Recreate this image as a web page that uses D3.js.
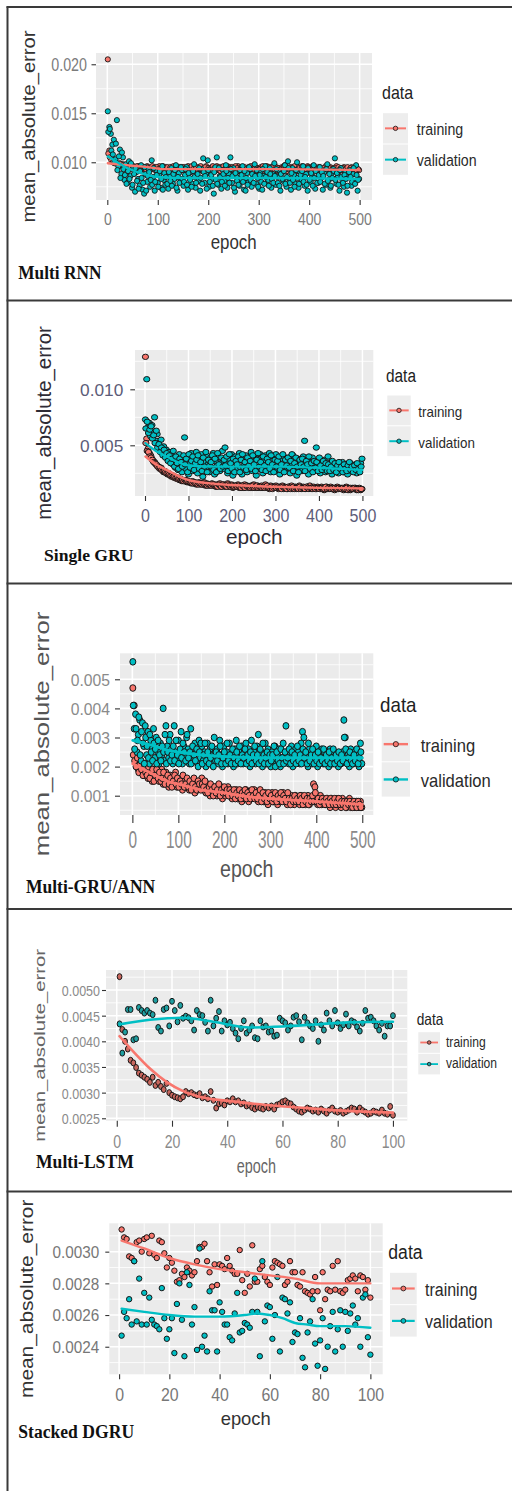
<!DOCTYPE html>
<html>
<head>
<meta charset="utf-8">
<script src="https://cdn.jsdelivr.net/npm/d3@7"></script>
<style>
  html, body { margin: 0; padding: 0; background: #ffffff; }
  svg { display: block; }
</style>
</head>
<body>
<svg id="fig" width="512" height="1491"></svg>
<script>
// ================= data =================
const seriesNames = ["training", "validation"];
// the 500-epoch runs are stored as two interleaved samples: epochs 1,4,7,... and 2,5,8,...
const longEpochsA = d3.range(1, 500, 3);
const longEpochsB = d3.range(2, 500, 3);
const shortEpochs = d3.range(1, 101);     // every epoch of the 100-epoch runs
const longXTicks = [0, 100, 200, 300, 400, 500];
const shortXTicks = [0, 20, 40, 60, 80, 100];

// ---- Multi RNN ----
const rnnYTicks = [0.010, 0.015, 0.020];
const rnnTrainA = [
  0.0205,0.0112,0.0106,0.0103,0.0101,0.0100,0.0099,0.0098,0.0099,0.0097,
  0.0098,0.0096,0.0097,0.0095,0.0097,0.0096,0.0094,0.0096,0.0095,0.0094,
  0.0096,0.0094,0.0095,0.0093,0.0095,0.0094,0.0096,0.0093,0.0094,0.0095,
  0.0093,0.0095,0.0092,0.0094,0.0096,0.0093,0.0091,0.0094,0.0095,0.0092,
  0.0094,0.0092,0.0095,0.0093,0.0091,0.0096,0.0094,0.0092,0.0093,0.0095,
  0.0092,0.0094,0.0093,0.0096,0.0091,0.0093,0.0095,0.0092,0.0094,0.0093,
  0.0095,0.0092,0.0094,0.0091,0.0093,0.0096,0.0092,0.0094,0.0093,0.0095,
  0.0091,0.0094,0.0096,0.0092,0.0093,0.0095,0.0091,0.0094,0.0092,0.0096,
  0.0093,0.0095,0.0092,0.0094,0.0091,0.0093,0.0096,0.0092,0.0095,0.0093,
  0.0094,0.0091,0.0093,0.0095,0.0092,0.0094,0.0096,0.0093,0.0091,0.0094,
  0.0092,0.0095,0.0093,0.0091,0.0094,0.0096,0.0092,0.0093,0.0095,0.0092,
  0.0096,0.0093,0.0091,0.0094,0.0092,0.0095,0.0093,0.0097,0.0092,0.0094,
  0.0093,0.0091,0.0095,0.0092,0.0094,0.0096,0.0091,0.0093,0.0095,0.0092,
  0.0094,0.0092,0.0096,0.0093,0.0091,0.0094,0.0092,0.0095,0.0093,0.0091,
  0.0095,0.0093,0.0092,0.0094,0.0096,0.0091,0.0093,0.0095,0.0092,0.0094,
  0.0092,0.0096,0.0093,0.0091,0.0094,0.0092,0.0095,0.0093,0.0091,0.0094,
  0.0093,0.0095,0.0092,0.0094,0.0091,0.0093,0.0092
];
const rnnTrainB = [
  0.0109,0.0105,0.0102,0.0100,0.0099,0.0100,0.0098,0.0097,0.0098,0.0096,
  0.0097,0.0095,0.0096,0.0094,0.0096,0.0095,0.0093,0.0095,0.0094,0.0096,
  0.0094,0.0096,0.0093,0.0095,0.0094,0.0092,0.0095,0.0094,0.0093,0.0096,
  0.0094,0.0092,0.0095,0.0093,0.0091,0.0094,0.0096,0.0092,0.0093,0.0095,
  0.0092,0.0095,0.0093,0.0096,0.0094,0.0091,0.0093,0.0095,0.0092,0.0094,
  0.0095,0.0093,0.0091,0.0094,0.0092,0.0096,0.0093,0.0091,0.0095,0.0092,
  0.0093,0.0096,0.0092,0.0094,0.0095,0.0091,0.0094,0.0093,0.0092,0.0096,
  0.0094,0.0092,0.0093,0.0095,0.0091,0.0094,0.0096,0.0093,0.0095,0.0092,
  0.0091,0.0094,0.0095,0.0092,0.0096,0.0094,0.0091,0.0093,0.0094,0.0092,
  0.0095,0.0093,0.0092,0.0094,0.0096,0.0091,0.0092,0.0095,0.0094,0.0093,
  0.0093,0.0092,0.0096,0.0094,0.0092,0.0093,0.0095,0.0091,0.0094,0.0096,
  0.0092,0.0095,0.0094,0.0091,0.0093,0.0092,0.0096,0.0094,0.0091,0.0093,
  0.0095,0.0094,0.0092,0.0096,0.0091,0.0093,0.0094,0.0092,0.0096,0.0093,
  0.0092,0.0093,0.0095,0.0091,0.0094,0.0096,0.0093,0.0092,0.0094,0.0095,
  0.0093,0.0091,0.0094,0.0092,0.0093,0.0095,0.0094,0.0091,0.0093,0.0092,
  0.0094,0.0092,0.0095,0.0093,0.0092,0.0094,0.0091,0.0093,0.0095,0.0092,
  0.0094,0.0091,0.0093,0.0095,0.0092,0.0093
];
const rnnValA = [
  0.0152,0.0136,0.0129,0.0118,0.0123,0.0103,0.0143,0.0096,0.0113,0.0088,
  0.0105,0.0082,0.0098,0.0079,0.0101,0.0086,0.0074,0.0095,0.0070,0.0090,
  0.0083,0.0076,0.0097,0.0072,0.0068,0.0088,0.0080,0.0093,0.0075,0.0102,
  0.0085,0.0071,0.0092,0.0079,0.0088,0.0074,0.0096,0.0082,0.0077,0.0090,
  0.0073,0.0086,0.0094,0.0078,0.0083,0.0097,0.0071,0.0089,0.0080,0.0092,
  0.0076,0.0087,0.0095,0.0072,0.0084,0.0090,0.0078,0.0098,0.0074,0.0086,
  0.0081,0.0071,0.0093,0.0104,0.0079,0.0088,0.0102,0.0075,0.0091,0.0083,
  0.0068,0.0095,0.0105,0.0077,0.0086,0.0073,0.0092,0.0081,0.0097,0.0074,
  0.0088,0.0105,0.0079,0.0094,0.0070,0.0085,0.0091,0.0076,0.0083,0.0096,
  0.0072,0.0071,0.0089,0.0080,0.0093,0.0075,0.0087,0.0098,0.0078,0.0084,
  0.0073,0.0091,0.0072,0.0086,0.0096,0.0079,0.0082,0.0094,0.0074,0.0088,
  0.0099,0.0077,0.0085,0.0092,0.0071,0.0089,0.0081,0.0097,0.0075,0.0101,
  0.0083,0.0072,0.0094,0.0087,0.0078,0.0100,0.0074,0.0090,0.0082,0.0096,
  0.0076,0.0088,0.0071,0.0093,0.0080,0.0086,0.0097,0.0073,0.0091,0.0079,
  0.0095,0.0084,0.0072,0.0090,0.0077,0.0098,0.0082,0.0074,0.0089,0.0093,
  0.0104,0.0078,0.0086,0.0071,0.0094,0.0081,0.0075,0.0090,0.0069,0.0085,
  0.0092,0.0076,0.0088,0.0079,0.0097,0.0071,0.0083
];
const rnnValB = [
  0.0131,0.0134,0.0112,0.0108,0.0100,0.0119,0.0092,0.0106,0.0084,0.0110,
  0.0093,0.0087,0.0078,0.0091,0.0083,0.0099,0.0077,0.0088,0.0094,0.0081,
  0.0073,0.0091,0.0084,0.0079,0.0095,0.0071,0.0086,0.0090,0.0082,0.0077,
  0.0094,0.0080,0.0087,0.0075,0.0091,0.0083,0.0072,0.0089,0.0085,0.0078,
  0.0090,0.0081,0.0076,0.0088,0.0092,0.0074,0.0085,0.0079,0.0095,0.0083,
  0.0080,0.0093,0.0077,0.0089,0.0082,0.0075,0.0091,0.0085,0.0079,0.0088,
  0.0094,0.0084,0.0078,0.0090,0.0086,0.0073,0.0092,0.0080,0.0087,0.0076,
  0.0090,0.0082,0.0078,0.0094,0.0085,0.0080,0.0088,0.0076,0.0091,0.0084,
  0.0079,0.0093,0.0086,0.0074,0.0089,0.0081,0.0077,0.0092,0.0087,0.0080,
  0.0091,0.0084,0.0077,0.0095,0.0082,0.0088,0.0079,0.0086,0.0092,0.0075,
  0.0087,0.0080,0.0093,0.0078,0.0085,0.0090,0.0076,0.0088,0.0083,0.0079,
  0.0086,0.0093,0.0079,0.0076,0.0088,0.0083,0.0091,0.0078,0.0085,0.0094,
  0.0079,0.0089,0.0082,0.0075,0.0092,0.0084,0.0078,0.0087,0.0091,0.0080,
  0.0085,0.0077,0.0094,0.0082,0.0089,0.0076,0.0084,0.0091,0.0079,0.0087,
  0.0080,0.0090,0.0086,0.0078,0.0093,0.0081,0.0088,0.0076,0.0084,0.0091,
  0.0082,0.0089,0.0077,0.0092,0.0085,0.0079,0.0087,0.0083,0.0076,0.0090,
  0.0085,0.0080,0.0094,0.0078,0.0087,0.0082
];
const rnnTrainFitEpochs = [1, 20, 50, 80, 95, 110, 200, 350, 500];
const rnnTrainFit = [0.0099, 0.0098, 0.00965, 0.0095, 0.0094, 0.0093, 0.0093, 0.0093, 0.0092];
const rnnValFitEpochs = [1, 20, 40, 60, 80, 100, 150, 250, 350, 500];
const rnnValFit = [0.0106, 0.0100, 0.0094, 0.0090, 0.0087, 0.0085, 0.0084, 0.0084, 0.0084, 0.0083];

// ---- Single GRU ----
const gruYTicks = [0.005, 0.010];
const gruTrainA = [
  0.0129,0.0056,0.0047,0.0043,0.0041,0.0038,0.0036,0.0035,0.0033,0.0032,
  0.0031,0.0029,0.0030,0.0028,0.0026,0.0027,0.0025,0.0024,0.0025,0.0023,
  0.0022,0.0023,0.0021,0.0022,0.0020,0.0021,0.0019,0.0020,0.0018,0.0019,
  0.0018,0.0019,0.0017,0.0018,0.0017,0.0016,0.0018,0.0016,0.0017,0.0015,
  0.0016,0.0017,0.0015,0.0016,0.0015,0.0017,0.0014,0.0016,0.0015,0.0014,
  0.0015,0.0016,0.0014,0.0015,0.0013,0.0015,0.0014,0.0016,0.0013,0.0014,
  0.0015,0.0013,0.0014,0.0016,0.0013,0.0014,0.0015,0.0012,0.0014,0.0013,
  0.0014,0.0015,0.0012,0.0013,0.0014,0.0012,0.0015,0.0013,0.0014,0.0012,
  0.0013,0.0014,0.0012,0.0015,0.0013,0.0012,0.0014,0.0013,0.0012,0.0014,
  0.0012,0.0013,0.0015,0.0012,0.0013,0.0011,0.0014,0.0012,0.0013,0.0012,
  0.0014,0.0012,0.0011,0.0013,0.0012,0.0014,0.0011,0.0013,0.0012,0.0011,
  0.0013,0.0012,0.0014,0.0011,0.0012,0.0013,0.0011,0.0012,0.0014,0.0012,
  0.0011,0.0013,0.0012,0.0011,0.0013,0.0012,0.0014,0.0011,0.0012,0.0013,
  0.0012,0.0011,0.0013,0.0012,0.0011,0.0013,0.0012,0.0010,0.0012,0.0013,
  0.0011,0.0012,0.0013,0.0011,0.0012,0.0010,0.0012,0.0013,0.0011,0.0012,
  0.0012,0.0011,0.0010,0.0012,0.0013,0.0011,0.0012,0.0010,0.0011,0.0012,
  0.0011,0.0012,0.0010,0.0011,0.0012,0.0010,0.0011
];
const gruTrainB = [
  0.0052,0.0045,0.0044,0.0040,0.0039,0.0037,0.0035,0.0034,0.0033,0.0031,
  0.0030,0.0030,0.0028,0.0027,0.0027,0.0026,0.0025,0.0025,0.0024,0.0023,
  0.0023,0.0022,0.0022,0.0021,0.0021,0.0020,0.0020,0.0019,0.0019,0.0018,
  0.0019,0.0018,0.0018,0.0017,0.0017,0.0017,0.0016,0.0017,0.0016,0.0016,
  0.0015,0.0016,0.0016,0.0015,0.0016,0.0015,0.0015,0.0014,0.0015,0.0015,
  0.0014,0.0015,0.0015,0.0014,0.0014,0.0013,0.0015,0.0014,0.0013,0.0015,
  0.0014,0.0014,0.0013,0.0015,0.0014,0.0013,0.0014,0.0013,0.0013,0.0014,
  0.0013,0.0014,0.0013,0.0012,0.0014,0.0013,0.0012,0.0014,0.0013,0.0013,
  0.0012,0.0013,0.0014,0.0012,0.0013,0.0014,0.0012,0.0013,0.0013,0.0012,
  0.0013,0.0012,0.0013,0.0014,0.0012,0.0012,0.0013,0.0011,0.0012,0.0013,
  0.0012,0.0013,0.0012,0.0012,0.0011,0.0013,0.0012,0.0012,0.0011,0.0013,
  0.0012,0.0011,0.0012,0.0013,0.0011,0.0012,0.0012,0.0011,0.0013,0.0011,
  0.0012,0.0012,0.0011,0.0013,0.0012,0.0011,0.0012,0.0012,0.0011,0.0012,
  0.0011,0.0012,0.0012,0.0011,0.0012,0.0012,0.0011,0.0011,0.0013,0.0011,
  0.0012,0.0011,0.0011,0.0012,0.0011,0.0012,0.0011,0.0011,0.0012,0.0011,
  0.0011,0.0012,0.0011,0.0011,0.0012,0.0010,0.0011,0.0012,0.0011,0.0011,
  0.0012,0.0011,0.0011,0.0010,0.0011,0.0011
];
const gruValA = [
  0.0073,0.0109,0.0066,0.0070,0.0058,0.0068,0.0062,0.0075,0.0054,0.0060,
  0.0052,0.0047,0.0055,0.0043,0.0049,0.0040,0.0046,0.0038,0.0044,0.0035,
  0.0041,0.0033,0.0039,0.0030,0.0036,0.0028,0.0042,0.0032,0.0026,0.0037,
  0.0057,0.0029,0.0040,0.0024,0.0034,0.0043,0.0027,0.0036,0.0031,0.0044,
  0.0025,0.0038,0.0032,0.0042,0.0022,0.0035,0.0029,0.0041,0.0033,0.0026,
  0.0039,0.0030,0.0043,0.0024,0.0036,0.0032,0.0040,0.0027,0.0034,0.0045,
  0.0029,0.0048,0.0033,0.0025,0.0038,0.0031,0.0042,0.0023,0.0035,0.0040,
  0.0028,0.0036,0.0043,0.0030,0.0024,0.0039,0.0033,0.0041,0.0026,0.0037,
  0.0032,0.0044,0.0027,0.0035,0.0040,0.0023,0.0038,0.0030,0.0042,0.0034,
  0.0025,0.0037,0.0041,0.0029,0.0033,0.0043,0.0026,0.0036,0.0031,0.0039,
  0.0042,0.0028,0.0034,0.0024,0.0038,0.0032,0.0040,0.0027,0.0035,0.0030,
  0.0039,0.0025,0.0033,0.0041,0.0029,0.0036,0.0023,0.0038,0.0031,0.0034,
  0.0027,0.0040,0.0054,0.0032,0.0037,0.0024,0.0035,0.0030,0.0039,0.0028,
  0.0034,0.0048,0.0029,0.0036,0.0025,0.0033,0.0031,0.0037,0.0026,0.0032,
  0.0040,0.0029,0.0035,0.0024,0.0032,0.0027,0.0034,0.0030,0.0025,0.0033,
  0.0028,0.0035,0.0026,0.0031,0.0033,0.0024,0.0030,0.0034,0.0027,0.0032,
  0.0029,0.0033,0.0025,0.0031,0.0027,0.0034,0.0038
];
const gruValB = [
  0.0065,0.0071,0.0061,0.0064,0.0067,0.0056,0.0059,0.0052,0.0063,0.0048,
  0.0051,0.0044,0.0048,0.0041,0.0046,0.0039,0.0043,0.0036,0.0041,0.0034,
  0.0038,0.0045,0.0031,0.0040,0.0034,0.0029,0.0038,0.0035,0.0031,0.0041,
  0.0033,0.0038,0.0026,0.0042,0.0030,0.0036,0.0040,0.0028,0.0034,0.0037,
  0.0041,0.0029,0.0035,0.0027,0.0039,0.0031,0.0044,0.0026,0.0037,0.0032,
  0.0035,0.0041,0.0028,0.0038,0.0026,0.0043,0.0033,0.0029,0.0039,0.0031,
  0.0037,0.0032,0.0040,0.0027,0.0042,0.0034,0.0029,0.0038,0.0026,0.0036,
  0.0033,0.0040,0.0026,0.0037,0.0042,0.0030,0.0035,0.0028,0.0039,0.0032,
  0.0036,0.0029,0.0041,0.0033,0.0027,0.0037,0.0043,0.0031,0.0035,0.0028,
  0.0040,0.0032,0.0027,0.0038,0.0035,0.0029,0.0041,0.0033,0.0026,0.0037,
  0.0031,0.0036,0.0040,0.0028,0.0033,0.0042,0.0026,0.0037,0.0032,0.0039,
  0.0030,0.0036,0.0042,0.0027,0.0034,0.0039,0.0031,0.0026,0.0037,0.0033,
  0.0038,0.0031,0.0027,0.0036,0.0033,0.0040,0.0029,0.0034,0.0026,0.0036,
  0.0030,0.0035,0.0027,0.0039,0.0032,0.0028,0.0036,0.0030,0.0034,0.0027,
  0.0033,0.0027,0.0031,0.0036,0.0028,0.0034,0.0026,0.0032,0.0035,0.0029,
  0.0031,0.0026,0.0033,0.0029,0.0027,0.0032,0.0035,0.0028,0.0031,0.0026,
  0.0032,0.0028,0.0034,0.0029,0.0026,0.0031
];
const gruTrainFitEpochs = [1, 25, 50, 75, 100, 150, 200, 300, 400, 500];
const gruTrainFit = [0.0040, 0.0033, 0.0028, 0.0023, 0.0019, 0.0016, 0.00145, 0.0013, 0.0012, 0.00115];
const gruValFitEpochs = [1, 25, 50, 75, 100, 150, 200, 300, 400, 450, 500];
const gruValFit = [0.0052, 0.0045, 0.0040, 0.0035, 0.0032, 0.0031, 0.0031, 0.0031, 0.0030, 0.0029, 0.0028];

// ---- Multi-GRU/ANN ----
const annYTicks = [0.001, 0.002, 0.003, 0.004, 0.005];
const annTrainA = [
  0.0047,0.0041,0.0024,0.0021,0.0019,0.0022,0.0018,0.0020,0.0017,0.0021,
  0.0019,0.0016,0.0020,0.0018,0.0015,0.0019,0.0017,0.0016,0.0018,0.0015,
  0.0017,0.0019,0.0014,0.0016,0.0018,0.0015,0.0013,0.0017,0.0015,0.0014,
  0.0016,0.0018,0.0013,0.0015,0.0014,0.0016,0.0012,0.0015,0.0013,0.0014,
  0.0015,0.0012,0.0014,0.0013,0.0015,0.0011,0.0014,0.0012,0.0013,0.0015,
  0.0016,0.0012,0.0013,0.0011,0.0014,0.0012,0.0010,0.0013,0.0011,0.0012,
  0.0013,0.0010,0.0012,0.0011,0.0013,0.0009,0.0012,0.0010,0.0011,0.0013,
  0.0010,0.0012,0.0009,0.0011,0.0010,0.0012,0.0009,0.0011,0.0010,0.0008,
  0.0011,0.0009,0.0012,0.0010,0.0008,0.0011,0.0009,0.0010,0.0012,0.0009,
  0.0010,0.0008,0.0011,0.0009,0.0010,0.0008,0.0011,0.0009,0.0007,0.0010,
  0.0009,0.0011,0.0008,0.0010,0.0009,0.0007,0.0010,0.0008,0.0009,0.0011,
  0.0008,0.0010,0.0007,0.0009,0.0008,0.0010,0.0009,0.0007,0.0010,0.0008,
  0.0009,0.0007,0.0010,0.0008,0.0009,0.0007,0.0008,0.0010,0.0007,0.0009,
  0.0008,0.0014,0.0013,0.0009,0.0007,0.0008,0.0010,0.0007,0.0009,0.0008,
  0.0007,0.0009,0.0008,0.0006,0.0009,0.0007,0.0008,0.0006,0.0009,0.0007,
  0.0008,0.0006,0.0009,0.0007,0.0008,0.0006,0.0007,0.0009,0.0006,0.0008,
  0.0007,0.0006,0.0008,0.0007,0.0006,0.0008,0.0006
];
const annTrainB = [
  0.0024,0.0022,0.0020,0.0023,0.0018,0.0021,0.0019,0.0017,0.0020,0.0018,
  0.0017,0.0020,0.0016,0.0018,0.0019,0.0015,0.0017,0.0019,0.0016,0.0018,
  0.0015,0.0016,0.0018,0.0014,0.0016,0.0017,0.0014,0.0016,0.0013,0.0015,
  0.0017,0.0014,0.0016,0.0013,0.0015,0.0014,0.0017,0.0013,0.0014,0.0016,
  0.0013,0.0015,0.0012,0.0014,0.0016,0.0013,0.0012,0.0015,0.0014,0.0012,
  0.0014,0.0013,0.0015,0.0012,0.0011,0.0013,0.0014,0.0012,0.0010,0.0013,
  0.0011,0.0012,0.0014,0.0010,0.0012,0.0011,0.0013,0.0011,0.0012,0.0010,
  0.0012,0.0011,0.0010,0.0012,0.0009,0.0011,0.0010,0.0012,0.0009,0.0011,
  0.0010,0.0012,0.0009,0.0011,0.0010,0.0009,0.0012,0.0010,0.0009,0.0011,
  0.0009,0.0010,0.0012,0.0008,0.0011,0.0009,0.0010,0.0008,0.0011,0.0009,
  0.0010,0.0008,0.0009,0.0011,0.0008,0.0010,0.0009,0.0011,0.0008,0.0010,
  0.0009,0.0008,0.0011,0.0009,0.0007,0.0009,0.0008,0.0010,0.0008,0.0009,
  0.0008,0.0010,0.0009,0.0007,0.0010,0.0008,0.0009,0.0007,0.0009,0.0008,
  0.0010,0.0008,0.0011,0.0008,0.0009,0.0007,0.0008,0.0009,0.0008,0.0007,
  0.0009,0.0008,0.0007,0.0009,0.0008,0.0007,0.0009,0.0007,0.0008,0.0009,
  0.0007,0.0008,0.0007,0.0008,0.0006,0.0008,0.0007,0.0008,0.0007,0.0006,
  0.0008,0.0007,0.0006,0.0008,0.0007,0.0006
];
const annValA = [
  0.0056,0.0033,0.0038,0.0025,0.0031,0.0036,0.0022,0.0035,0.0027,0.0034,
  0.0024,0.0032,0.0021,0.0029,0.0026,0.0033,0.0023,0.0030,0.0025,0.0021,
  0.0028,0.0024,0.0040,0.0022,0.0034,0.0027,0.0023,0.0031,0.0026,0.0021,
  0.0034,0.0025,0.0022,0.0029,0.0024,0.0032,0.0021,0.0027,0.0023,0.0030,
  0.0026,0.0021,0.0033,0.0024,0.0022,0.0028,0.0025,0.0021,0.0029,0.0023,
  0.0027,0.0022,0.0025,0.0020,0.0028,0.0023,0.0026,0.0021,0.0024,0.0030,
  0.0022,0.0026,0.0021,0.0029,0.0024,0.0020,0.0027,0.0023,0.0025,0.0021,
  0.0028,0.0022,0.0024,0.0020,0.0026,0.0029,0.0021,0.0025,0.0023,0.0027,
  0.0021,0.0024,0.0028,0.0022,0.0026,0.0020,0.0029,0.0023,0.0025,0.0021,
  0.0027,0.0031,0.0022,0.0025,0.0020,0.0024,0.0028,0.0021,0.0026,0.0023,
  0.0020,0.0025,0.0022,0.0027,0.0021,0.0024,0.0026,0.0020,0.0023,0.0028,
  0.0022,0.0034,0.0025,0.0021,0.0024,0.0027,0.0020,0.0023,0.0026,0.0022,
  0.0025,0.0021,0.0028,0.0032,0.0030,0.0022,0.0024,0.0020,0.0026,0.0023,
  0.0021,0.0025,0.0022,0.0027,0.0020,0.0024,0.0023,0.0026,0.0021,0.0025,
  0.0022,0.0024,0.0020,0.0026,0.0023,0.0021,0.0025,0.0022,0.0024,0.0020,
  0.0023,0.0021,0.0025,0.0036,0.0030,0.0022,0.0024,0.0020,0.0026,0.0023,
  0.0021,0.0025,0.0022,0.0024,0.0020,0.0028,0.0021
];
const annValB = [
  0.0041,0.0026,0.0033,0.0029,0.0037,0.0024,0.0032,0.0028,0.0021,0.0030,
  0.0027,0.0023,0.0031,0.0025,0.0022,0.0028,0.0026,0.0021,0.0029,0.0024,
  0.0022,0.0027,0.0025,0.0031,0.0021,0.0025,0.0029,0.0022,0.0024,0.0027,
  0.0022,0.0029,0.0024,0.0021,0.0026,0.0023,0.0028,0.0025,0.0022,0.0031,
  0.0023,0.0025,0.0021,0.0027,0.0024,0.0022,0.0026,0.0020,0.0025,0.0028,
  0.0021,0.0024,0.0028,0.0022,0.0025,0.0021,0.0023,0.0027,0.0020,0.0024,
  0.0025,0.0022,0.0024,0.0027,0.0021,0.0023,0.0025,0.0021,0.0028,0.0022,
  0.0024,0.0021,0.0026,0.0023,0.0021,0.0025,0.0022,0.0027,0.0021,0.0024,
  0.0023,0.0026,0.0021,0.0024,0.0022,0.0025,0.0021,0.0024,0.0027,0.0022,
  0.0024,0.0021,0.0026,0.0022,0.0028,0.0021,0.0023,0.0025,0.0021,0.0024,
  0.0022,0.0024,0.0027,0.0020,0.0025,0.0022,0.0021,0.0026,0.0023,0.0021,
  0.0025,0.0022,0.0023,0.0026,0.0021,0.0025,0.0022,0.0024,0.0021,0.0027,
  0.0022,0.0024,0.0021,0.0026,0.0023,0.0025,0.0021,0.0028,0.0022,0.0024,
  0.0026,0.0021,0.0024,0.0022,0.0025,0.0021,0.0023,0.0022,0.0026,0.0021,
  0.0024,0.0022,0.0025,0.0021,0.0023,0.0026,0.0021,0.0024,0.0022,0.0025,
  0.0021,0.0024,0.0022,0.0030,0.0026,0.0021,0.0023,0.0025,0.0022,0.0021,
  0.0024,0.0022,0.0026,0.0021,0.0023,0.0025
];
const annTrainFitEpochs = [1, 25, 50, 75, 100, 150, 200, 250, 300, 400, 500];
const annTrainFit = [0.0021, 0.0019, 0.0017, 0.0015, 0.0014, 0.0012, 0.0011, 0.00097, 0.0009, 0.0008, 0.0007];
const annValFitEpochs = [1, 25, 50, 75, 100, 150, 200, 300, 400, 500];
const annValFit = [0.0029, 0.0028, 0.0027, 0.00257, 0.0025, 0.0024, 0.00235, 0.0023, 0.0023, 0.0023];

// ---- Multi-LSTM ----
const lstmYTicks = [0.0025, 0.0030, 0.0035, 0.0040, 0.0045, 0.0050];
const lstmTrain = [
  0.00526,0.00423,0.00400,0.00385,0.00363,0.00358,0.00349,0.00338,0.00334,0.00330,
  0.00326,0.00320,0.00330,0.00314,0.00320,0.00312,0.00306,0.00318,0.00300,0.00295,
  0.00292,0.00290,0.00288,0.00292,0.00302,0.00298,0.00300,0.00296,0.00294,0.00298,
  0.00290,0.00292,0.00288,0.00302,0.00285,0.00270,0.00278,0.00280,0.00276,0.00284,
  0.00282,0.00288,0.00282,0.00284,0.00278,0.00280,0.00274,0.00276,0.00271,0.00268,
  0.00272,0.00270,0.00268,0.00273,0.00270,0.00274,0.00268,0.00276,0.00278,0.00282,
  0.00284,0.00280,0.00278,0.00272,0.00268,0.00264,0.00262,0.00266,0.00270,0.00268,
  0.00264,0.00266,0.00262,0.00268,0.00264,0.00260,0.00266,0.00270,0.00264,0.00262,
  0.00265,0.00260,0.00263,0.00266,0.00270,0.00268,0.00262,0.00270,0.00265,0.00262,
  0.00258,0.00260,0.00264,0.00262,0.00260,0.00266,0.00260,0.00258,0.00273,0.00256
];
const lstmVal = [
  0.00434,0.00377,0.00418,0.00462,0.00462,0.00403,0.00405,0.00466,0.00460,0.00455,
  0.00460,0.00455,0.00452,0.00480,0.00427,0.00420,0.00462,0.00465,0.00430,0.00478,
  0.00460,0.00438,0.00470,0.00445,0.00449,0.00446,0.00440,0.00422,0.00460,0.00452,
  0.00450,0.00437,0.00420,0.00480,0.00430,0.00445,0.00458,0.00420,0.00440,0.00432,
  0.00437,0.00425,0.00416,0.00405,0.00425,0.00440,0.00416,0.00422,0.00430,0.00407,
  0.00405,0.00440,0.00428,0.00430,0.00418,0.00420,0.00410,0.00412,0.00445,0.00440,
  0.00436,0.00422,0.00430,0.00447,0.00450,0.00438,0.00403,0.00447,0.00436,0.00430,
  0.00425,0.00440,0.00400,0.00432,0.00422,0.00455,0.00440,0.00430,0.00460,0.00436,
  0.00425,0.00432,0.00453,0.00430,0.00440,0.00437,0.00428,0.00420,0.00435,0.00460,
  0.00445,0.00447,0.00440,0.00430,0.00422,0.00435,0.00410,0.00430,0.00430,0.00450
];
const lstmTrainFitEpochs = [1, 6, 12, 18, 24, 30, 42, 54, 66, 78, 90, 100];
const lstmTrainFit = [0.0041, 0.0038, 0.00347, 0.00321, 0.00303, 0.00292, 0.00283, 0.00276, 0.00271, 0.00266, 0.00263, 0.00261];
const lstmValFitEpochs = [1, 12, 24, 36, 48, 60, 72, 84, 100];
const lstmValFit = [0.00433, 0.00442, 0.00446, 0.00437, 0.00427, 0.00429, 0.00433, 0.00437, 0.00438];

// ---- Stacked DGRU ----
const dgruYTicks = [0.0024, 0.0026, 0.0028, 0.0030];
const dgruTrain = [
  0.00314,0.00309,0.00308,0.00297,0.00296,0.00294,0.00306,0.00307,0.00300,0.00308,
  0.00309,0.00299,0.00310,0.00298,0.00296,0.00307,0.00306,0.00299,0.00290,0.00296,
  0.00293,0.00288,0.00281,0.00282,0.00286,0.00284,0.00290,0.00288,0.00285,0.00287,
  0.00294,0.00303,0.00303,0.00305,0.00294,0.00287,0.00278,0.00292,0.00279,0.00292,
  0.00291,0.00289,0.00296,0.00291,0.00288,0.00286,0.00286,0.00301,0.00282,0.00274,
  0.00286,0.00278,0.00304,0.00281,0.00281,0.00289,0.00291,0.00284,0.00281,0.00279,
  0.00290,0.00294,0.00293,0.00292,0.00291,0.00279,0.00281,0.00294,0.00287,0.00287,
  0.00279,0.00278,0.00287,0.00275,0.00274,0.00273,0.00275,0.00284,0.00275,0.00263,
  0.00287,0.00270,0.00276,0.00275,0.00291,0.00276,0.00294,0.00275,0.00274,0.00276,
  0.00282,0.00283,0.00285,0.00283,0.00275,0.00285,0.00284,0.00276,0.00282,0.00271
];
const dgruVal = [
  0.00247,0.00262,0.00258,0.00270,0.00254,0.00294,0.00256,0.00283,0.00254,0.00274,
  0.00254,0.00271,0.00257,0.00254,0.00253,0.00251,0.00277,0.00258,0.00245,0.00251,
  0.00258,0.00236,0.00267,0.00280,0.00257,0.00234,0.00287,0.00279,0.00254,0.00265,
  0.00238,0.00302,0.00240,0.00247,0.00237,0.00275,0.00263,0.00263,0.00237,0.00268,
  0.00262,0.00254,0.00254,0.00246,0.00244,0.00261,0.00274,0.00249,0.00250,0.00255,
  0.00254,0.00252,0.00262,0.00283,0.00262,0.00234,0.00294,0.00256,0.00266,0.00265,
  0.00245,0.00260,0.00284,0.00237,0.00271,0.00270,0.00261,0.00268,0.00243,0.00249,
  0.00248,0.00258,0.00233,0.00227,0.00249,0.00256,0.00270,0.00242,0.00228,0.00244,
  0.00258,0.00226,0.00240,0.00253,0.00262,0.00237,0.00251,0.00263,0.00240,0.00262,
  0.00250,0.00261,0.00266,0.00254,0.00258,0.00240,0.00271,0.00273,0.00246,0.00235
];
const dgruTrainFitEpochs = [1, 10, 20, 30, 40, 50, 60, 70, 80, 90, 100];
const dgruTrainFit = [0.00307, 0.00302, 0.00296, 0.00292, 0.00289, 0.00287, 0.00285, 0.00283, 0.00280, 0.00280, 0.00280];
const dgruValFitEpochs = [1, 10, 20, 30, 40, 50, 55, 60, 65, 70, 75, 80, 90, 100];
const dgruValFit = [0.00264, 0.00262, 0.00260, 0.00259, 0.00259, 0.00260, 0.00261, 0.00260, 0.00258, 0.00255, 0.00254, 0.00253, 0.00253, 0.00252];

// ================= drawing =================
const TRAIN = "#F8766D", VAL = "#00BFC4";
const SANS = "'Liberation Sans', Arial, Helvetica, sans-serif";
const SERIF = "'Liberation Serif', 'Times New Roman', serif";
const svg = d3.select("#fig");
const longEpochs = longEpochsA.concat(longEpochsB);

// text with an independent vertical stretch (rotated text stretches along its length)
function stext(g, x, y, str, o) {
  const tf = o.rot
    ? `translate(${x},${y}) rotate(-90) scale(${o.sy},1)`
    : `translate(${x},${y}) scale(1,${o.sy})`;
  return g.append("text")
    .attr("transform", tf)
    .attr("text-anchor", o.anchor || "start")
    .attr("font-family", o.family || SANS)
    .attr("font-weight", o.weight || "normal")
    .attr("font-size", o.fs)
    .attr("fill", o.color || "#333")
    .text(str);
}

// half-step grid positions between (and just outside) the major ticks
function minorTicks(ticks, dom) {
  const s = ticks[1] - ticks[0];
  return d3.range(ticks.length + 1)
    .map(i => ticks[0] - s / 2 + i * s)
    .filter(v => v > Math.min(...dom) && v < Math.max(...dom));
}

function drawPanel(p) {
  const g = svg.append("g");
  const [L, R, T, B] = p.box;
  const x = d3.scaleLinear().domain(p.xDomain).range([L, R]);
  const y = d3.scaleLinear().domain(p.yDomain).range([B, T]);

  g.append("rect").attr("x", L).attr("y", T).attr("width", R - L).attr("height", B - T).attr("fill", "#EBEBEB");

  const grid = g.append("g").attr("stroke", "#ffffff");
  grid.selectAll(null).data(minorTicks(p.xTicks, p.xDomain)).join("line")
    .attr("x1", d => x(d)).attr("x2", d => x(d)).attr("y1", T).attr("y2", B).attr("stroke-width", p.minorW);
  grid.selectAll(null).data(minorTicks(p.yTicks, p.yDomain)).join("line")
    .attr("y1", d => y(d)).attr("y2", d => y(d)).attr("x1", L).attr("x2", R).attr("stroke-width", p.minorW);
  grid.selectAll(null).data(p.xTicks).join("line")
    .attr("x1", d => x(d)).attr("x2", d => x(d)).attr("y1", T).attr("y2", B).attr("stroke-width", p.majorW);
  grid.selectAll(null).data(p.yTicks).join("line")
    .attr("y1", d => y(d)).attr("y2", d => y(d)).attr("x1", L).attr("x2", R).attr("stroke-width", p.majorW);

  // axes
  const xa = g.append("g").attr("transform", `translate(0,${B})`)
    .call(d3.axisBottom(x).tickValues(p.xTicks).tickSize(p.xTickLen).tickFormat(d3.format("d")));
  xa.select(".domain").remove();
  xa.selectAll(".tick line").attr("stroke", "#333").attr("stroke-width", 1.1);
  xa.selectAll(".tick text").attr("y", null).attr("dy", null)
    .attr("transform", `translate(0,${p.xLab.base}) scale(1,${p.xLab.sy})`)
    .attr("font-family", SANS).attr("font-size", p.xLab.fs).attr("fill", p.tickColor);

  const ya = g.append("g").attr("transform", `translate(${L},0)`)
    .call(d3.axisLeft(y).tickValues(p.yTicks).tickSize(p.yTickLen).tickFormat(d3.format(p.yFmt)));
  ya.select(".domain").remove();
  ya.selectAll(".tick line").attr("stroke", "#333").attr("stroke-width", 1.1);
  ya.selectAll(".tick text").attr("x", null).attr("dy", null)
    .attr("transform", `translate(${-p.yLab.gap},${0.358 * p.yLab.fs * p.yLab.sy}) scale(1,${p.yLab.sy})`)
    .attr("font-family", SANS).attr("font-size", p.yLab.fs).attr("fill", p.tickColor);

  // points: training first, validation on top
  p.series.forEach(s => {
    g.append("g").selectAll("ellipse")
      .data(s.values.map((v, i) => [s.epochs[i], v]))
      .join("ellipse")
      .attr("cx", d => x(d[0])).attr("cy", d => y(d[1]))
      .attr("rx", p.rx).attr("ry", p.ry)
      .attr("fill", s.fill).attr("stroke", "#151515").attr("stroke-width", p.sw);
  });

  // smoothed trends
  const line = d3.line().x(d => x(d[0])).y(d => y(d[1])).curve(d3.curveMonotoneX);
  p.fits.forEach(f => {
    g.append("path")
      .datum(f.epochs.map((e, i) => [e, f.values[i]]))
      .attr("d", line).attr("fill", "none")
      .attr("stroke", f.color).attr("stroke-width", p.lineW)
      .attr("stroke-linecap", "round").attr("stroke-linejoin", "round");
  });

  // axis titles
  stext(g, p.xTitle.x, p.xTitle.base, "epoch", { fs: p.xTitle.fs, sy: p.xTitle.sy, anchor: "middle", color: p.titleColor });
  stext(g, p.yTitle.x, p.yTitle.cy, "mean_absolute_error", { fs: p.yTitle.fs, sy: p.yTitle.sy, anchor: "middle", rot: true, color: p.titleColor });

  // legend
  const lg = p.legend;
  stext(g, lg.x, lg.titleBase, "data", { fs: lg.titleFs, sy: lg.titleSy, color: "#222" });
  seriesNames.forEach((name, i) => {
    const top = lg.keyTop + i * lg.keyH;
    const cy = top + lg.keyH / 2;
    const col = i === 0 ? TRAIN : VAL;
    g.append("rect").attr("x", lg.keyX).attr("y", top + 0.5).attr("width", lg.keyW).attr("height", lg.keyH - 1).attr("fill", "#EDEDED");
    g.append("line").attr("x1", lg.keyX + 2).attr("x2", lg.keyX + lg.keyW - 2).attr("y1", cy).attr("y2", cy)
      .attr("stroke", col).attr("stroke-width", lg.lineW);
    g.append("circle").attr("cx", lg.keyX + lg.keyW / 2).attr("cy", cy).attr("r", lg.r)
      .attr("fill", p.series[i].fill).attr("stroke", "#151515").attr("stroke-width", 0.8);
    stext(g, lg.labelX, cy + lg.labelDy, name, { fs: lg.labelFs, sy: lg.labelSy, color: "#2a2a2a" });
  });

  // model name
  stext(g, p.name.x, p.name.base, p.name.text, { fs: p.name.fs, sy: p.name.sy, family: SERIF, weight: "bold", color: "#111" });
}

// ---- panel settings ----
const panels = [
  {
    box: [96, 372, 53, 200], xDomain: [-22.4, 524.5], yDomain: [0.00615, 0.02115],
    xTicks: longXTicks, yTicks: rnnYTicks, yFmt: ".3f",
    xTickLen: 5, yTickLen: 4.5, majorW: 1.5, minorW: 0.8,
    xLab: { fs: 14, sy: 1.2, base: 25 }, yLab: { fs: 14.3, sy: 1.24, gap: 9 }, tickColor: "#7b7b7b",
    rx: 2.6, ry: 2.6, sw: 0.9, lineW: 2.4,
    series: [{ epochs: longEpochs, values: rnnTrainA.concat(rnnTrainB), fill: TRAIN },
             { epochs: longEpochs, values: rnnValA.concat(rnnValB), fill: VAL }],
    fits: [{ epochs: rnnTrainFitEpochs, values: rnnTrainFit, color: TRAIN }, { epochs: rnnValFitEpochs, values: rnnValFit, color: VAL }],
    xTitle: { x: 233.7, base: 249.2, fs: 16.9, sy: 1.15 }, yTitle: { x: 34.7, cy: 126.5, fs: 17.9, sy: 1.13 }, titleColor: "#333",
    legend: { x: 382, titleBase: 99.3, titleFs: 16, titleSy: 1.2, keyX: 383, keyW: 25, keyTop: 112.7, keyH: 31.3,
              lineW: 2, r: 2.2, labelX: 416.7, labelDy: 6.7, labelFs: 14.2, labelSy: 1.2 },
    name: { text: "Multi RNN", x: 18.3, base: 279.3, fs: 17.3, sy: 1.08 }
  },
  {
    box: [135, 373.3, 350, 496], xDomain: [-23, 525], yDomain: [0.000473, 0.01351],
    xTicks: longXTicks, yTicks: gruYTicks, yFmt: ".3f",
    xTickLen: 5, yTickLen: 4.7, majorW: 1.5, minorW: 0.8,
    xLab: { fs: 16, sy: 1.16, base: 25.7 }, yLab: { fs: 17.3, sy: 1.0, gap: 11.7 }, tickColor: "#5c5c78",
    rx: 3.1, ry: 2.7, sw: 1.0, lineW: 2.4,
    series: [{ epochs: longEpochs, values: gruTrainA.concat(gruTrainB), fill: TRAIN },
             { epochs: longEpochs, values: gruValA.concat(gruValB), fill: VAL }],
    fits: [{ epochs: gruTrainFitEpochs, values: gruTrainFit, color: TRAIN }, { epochs: gruValFitEpochs, values: gruValFit, color: VAL }],
    xTitle: { x: 254.3, base: 544.2, fs: 20.8, sy: 0.95 }, yTitle: { x: 50.7, cy: 423, fs: 19.8, sy: 1.03 }, titleColor: "#2e2b35",
    legend: { x: 386, titleBase: 381.7, titleFs: 15.4, titleSy: 1.2, keyX: 387.3, keyW: 23.4, keyTop: 395, keyH: 30.8,
              lineW: 2, r: 2.2, labelX: 418.3, labelDy: 6.9, labelFs: 13.4, labelSy: 1.1 },
    name: { text: "Single GRU", x: 44, base: 560.5, fs: 17.6, sy: 1.0 }
  },
  {
    box: [120, 373.3, 653.3, 815], xDomain: [-26.9, 524], yDomain: [0.000337, 0.005893],
    xTicks: longXTicks, yTicks: annYTicks, yFmt: ".3f",
    xTickLen: 8, yTickLen: 5, majorW: 1.6, minorW: 0.8,
    xLab: { fs: 15.4, sy: 1.5, base: 33.3 }, yLab: { fs: 15.7, sy: 1.1, gap: 10 }, tickColor: "#8a8a8a",
    rx: 3.0, ry: 3.3, sw: 1.0, lineW: 3,
    series: [{ epochs: longEpochs, values: annTrainA.concat(annTrainB), fill: TRAIN },
             { epochs: longEpochs, values: annValA.concat(annValB), fill: VAL }],
    fits: [{ epochs: annTrainFitEpochs, values: annTrainFit, color: TRAIN }, { epochs: annValFitEpochs, values: annValFit, color: VAL }],
    xTitle: { x: 246.7, base: 876.8, fs: 19.6, sy: 1.19 }, yTitle: { x: 48.9, cy: 734, fs: 19.8, sy: 1.3 }, titleColor: "#555",
    legend: { x: 380, titleBase: 711.7, titleFs: 18.8, titleSy: 1.12, keyX: 381.7, keyW: 28.3, keyTop: 726.5, keyH: 35.3,
              lineW: 2.4, r: 2.6, labelX: 420.7, labelDy: 7.5, labelFs: 16.6, labelSy: 1.1 },
    name: { text: "Multi-GRU/ANN", x: 26, base: 892.5, fs: 17.5, sy: 1.05 }
  },
  {
    box: [106, 407.3, 970, 1120.7], xDomain: [-3.9, 105.2], yDomain: [0.002453, 0.00539],
    xTicks: shortXTicks, yTicks: lstmYTicks, yFmt: ".4f",
    xTickLen: 6, yTickLen: 4, majorW: 1.5, minorW: 0.8,
    xLab: { fs: 14.1, sy: 1.35, base: 27 }, yLab: { fs: 12.5, sy: 1.23, gap: 6 }, tickColor: "#8a8a8a",
    rx: 2.4, ry: 3.0, sw: 1.0, lineW: 2.6,
    series: [{ epochs: shortEpochs, values: lstmTrain, fill: "#c9675e" }, { epochs: shortEpochs, values: lstmVal, fill: "#1f9fa1" }],
    fits: [{ epochs: lstmTrainFitEpochs, values: lstmTrainFit, color: TRAIN }, { epochs: lstmValFitEpochs, values: lstmValFit, color: VAL }],
    xTitle: { x: 256.3, base: 1172.6, fs: 14.4, sy: 1.37 }, yTitle: { x: 45.4, cy: 1045.3, fs: 14, sy: 1.45 }, titleColor: "#666",
    legend: { x: 416.7, titleBase: 1025, titleFs: 13.7, titleSy: 1.19, keyX: 418.3, keyW: 21.7, keyTop: 1031.7, keyH: 21.6,
              lineW: 1.8, r: 1.8, labelX: 446, labelDy: 4.3, labelFs: 12.1, labelSy: 1.15 },
    name: { text: "Multi-LSTM", x: 36, base: 1167.5, fs: 17.6, sy: 1.03 }
  },
  {
    box: [109.3, 382.7, 1223.3, 1374.3], xDomain: [-3.9, 104.9], yDomain: [0.002226, 0.003179],
    xTicks: shortXTicks, yTicks: dgruYTicks, yFmt: ".4f",
    xTickLen: 5, yTickLen: 4, majorW: 1.5, minorW: 0.8,
    xLab: { fs: 15.9, sy: 1.17, base: 26.7 }, yLab: { fs: 15.3, sy: 1.07, gap: 10 }, tickColor: "#777",
    rx: 2.7, ry: 2.7, sw: 1.0, lineW: 2.4,
    series: [{ epochs: shortEpochs, values: dgruTrain, fill: TRAIN }, { epochs: shortEpochs, values: dgruVal, fill: VAL }],
    fits: [{ epochs: dgruTrainFitEpochs, values: dgruTrainFit, color: TRAIN }, { epochs: dgruValFitEpochs, values: dgruValFit, color: VAL }],
    xTitle: { x: 245.7, base: 1424.5, fs: 18.4, sy: 0.98 }, yTitle: { x: 32.9, cy: 1298.8, fs: 18, sy: 1.16 }, titleColor: "#333",
    legend: { x: 388.3, titleBase: 1259, titleFs: 17.6, titleSy: 1.1, keyX: 390, keyW: 26.7, keyTop: 1272.3, keyH: 32.4,
              lineW: 2.2, r: 2.4, labelX: 425, labelDy: 7.5, labelFs: 16, labelSy: 1.1 },
    name: { text: "Stacked DGRU", x: 18.3, base: 1437.7, fs: 17.6, sy: 1.12 }
  }
];

panels.forEach(drawPanel);

// figure frame: left rule and the separators between the model panels
const frame = svg.append("g").attr("stroke", "#3a3a3a").attr("stroke-width", 2);
frame.append("line").attr("x1", 7.5).attr("x2", 7.5).attr("y1", 6.5).attr("y2", 1491);
[7, 300.5, 583.5, 909, 1191.5].forEach(yy =>
  frame.append("line").attr("x1", 6.5).attr("x2", 512).attr("y1", yy).attr("y2", yy));
</script>
</body>
</html>
